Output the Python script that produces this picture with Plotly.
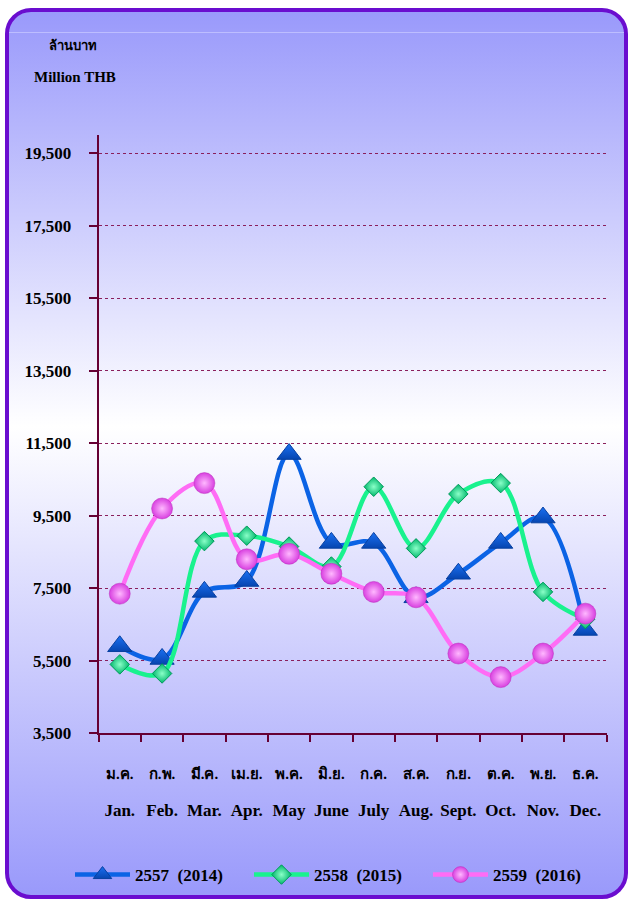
import base64
import plotly.graph_objects as go

months_th = ["ม.ค.", "ก.พ.", "มี.ค.", "เม.ย.", "พ.ค.", "มิ.ย.", "ก.ค.", "ส.ค.", "ก.ย.", "ต.ค.", "พ.ย.", "ธ.ค."]
months_en = ["Jan.", "Feb.", "Mar.", "Apr.", "May", "June", "July", "Aug.", "Sept.", "Oct.", "Nov.", "Dec."]
series_names = ["2557  (2014)", "2558  (2015)", "2559  (2016)"]
y2014 = [5900, 5550, 7400, 7700, 11200, 8750, 8750, 7250, 7900, 8750, 9450, 6350]
y2015 = [5400, 5150, 8800, 8950, 8650, 8100, 10300, 8600, 10100, 10400, 7400, 6650]
y2016 = [7350, 9700, 10400, 8300, 8450, 7900, 7400, 7250, 5700, 5050, 5700, 6800]
y_ticks = [3500, 5500, 7500, 9500, 11500, 13500, 15500, 17500, 19500]

W, H = 628, 900
AX = "#660033"
SERIF = "Liberation Serif, Times New Roman, serif"

svg = f"""<svg xmlns='http://www.w3.org/2000/svg' width='{W}' height='{H}' viewBox='0 0 {W} {H}' preserveAspectRatio='none'>
<defs><linearGradient id='g' x1='0' y1='0' x2='0' y2='1'>
<stop offset='0' stop-color='#9999fb'/><stop offset='0.47' stop-color='#ffffff'/><stop offset='1' stop-color='#9999fb'/>
</linearGradient></defs>
<rect x='7' y='10' width='619' height='887' rx='24' ry='24' fill='url(#g)' stroke='#6a0dcf' stroke-width='4'/>
<line x1='9' y1='32.5' x2='624' y2='32.5' stroke='#bdbdff' stroke-width='1'/>
</svg>"""
bg_uri = "data:image/svg+xml;base64," + base64.b64encode(svg.encode()).decode()

fig = go.Figure()

fig.add_trace(go.Scatter(
    x=months_th, y=y2014, name=series_names[0], mode="lines+markers",
    line=dict(color="#0b63e5", width=4.5, shape="spline", smoothing=1.0),
    marker=dict(symbol="triangle-up", size=21, color="#1a70f2",
                gradient=dict(type="vertical", color="#0645b0"),
                line=dict(color="#0840a0", width=1)),
))
fig.add_trace(go.Scatter(
    x=months_th, y=y2015, name=series_names[1], mode="lines+markers",
    line=dict(color="#19f28e", width=4.5, shape="spline", smoothing=1.0),
    marker=dict(symbol="diamond", size=15, color="#00b86c",
                gradient=dict(type="radial", color="#8affc8"),
                line=dict(color="#009a5a", width=1)),
))
fig.add_trace(go.Scatter(
    x=months_th, y=y2016, name=series_names[2], mode="lines+markers",
    line=dict(color="#ff6cf5", width=4.5, shape="spline", smoothing=1.0),
    marker=dict(symbol="circle", size=21, color="#d83fe0",
                gradient=dict(type="radial", color="#ffb8ff"),
                line=dict(color="#b830b8", width=0.5)),
))
# invisible trace carrying the English month categories for the second label row
fig.add_trace(go.Scatter(x=months_en, y=[None] * 12, xaxis="x2", showlegend=False,
                         hoverinfo="skip", mode="lines"))

fig.update_layout(
    width=W, height=H,
    margin=dict(l=0, r=0, t=0, b=0, autoexpand=False),
    paper_bgcolor="white", plot_bgcolor="rgba(0,0,0,0)",
    images=[dict(source=bg_uri, xref="paper", yref="paper", x=0, y=1,
                 sizex=1, sizey=1, sizing="stretch", layer="below",
                 xanchor="left", yanchor="top")],
    xaxis=dict(
        domain=[98.6 / W, 606.5 / W], type="category", categoryarray=months_th,
        categoryorder="array", range=[-0.5, 11.5], tickson="boundaries",
        ticks="outside", ticklen=7, tickwidth=2, tickcolor=AX, tickangle=0,
        showline=True, linecolor=AX, linewidth=2, showgrid=False,
        tickfont=dict(family=SERIF, size=15, color="black", weight="bold"),
        ticklabelstandoff=26, automargin=False, fixedrange=True,
    ),
    xaxis2=dict(
        domain=[98.6 / W, 606.5 / W], type="category", categoryarray=months_en,
        categoryorder="array", range=[-0.5, 11.5], overlaying="x", anchor="y",
        side="bottom", ticks="", showline=False, showgrid=False, tickangle=0,
        tickfont=dict(family=SERIF, size=17, color="black", weight="bold"),
        ticklabelstandoff=65, automargin=False, fixedrange=True,
    ),
    yaxis=dict(
        domain=[(H - 733.3) / H, (H - 135) / H], range=[3500, 20000],
        tickmode="array", tickvals=y_ticks, tickformat=",",
        ticks="outside", ticklen=8, tickwidth=2, tickcolor=AX,
        showline=True, linecolor=AX, linewidth=2,
        showgrid=True, gridcolor="#8a1f5c", gridwidth=1, griddash="dot",
        zeroline=False,
        tickfont=dict(family=SERIF, size=17, color="black", weight="bold"),
        ticklabelstandoff=14, automargin=False, fixedrange=True,
    ),
    legend=dict(
        orientation="h", x=70 / W, xanchor="left", y=(H - 875) / H, yanchor="middle",
        bgcolor="rgba(0,0,0,0)", itemwidth=55, entrywidth=109,
        font=dict(family=SERIF, size=17, color="black", weight="bold"),
        traceorder="normal",
    ),
    annotations=[
        dict(text="ล้านบาท", xref="paper", yref="paper", x=47 / W, y=(H - 45) / H,
             xanchor="left", yanchor="middle", showarrow=False,
             font=dict(family=SERIF, size=13, color="black", weight="bold")),
        dict(text="Million THB", xref="paper", yref="paper", x=32 / W, y=(H - 77) / H,
             xanchor="left", yanchor="middle", showarrow=False,
             font=dict(family=SERIF, size=15, color="black", weight="bold")),
    ],
    showlegend=True,
)

fig.write_html("out.html", config={"displayModeBar": False},
               post_script="document.body.style.margin='0px';")
